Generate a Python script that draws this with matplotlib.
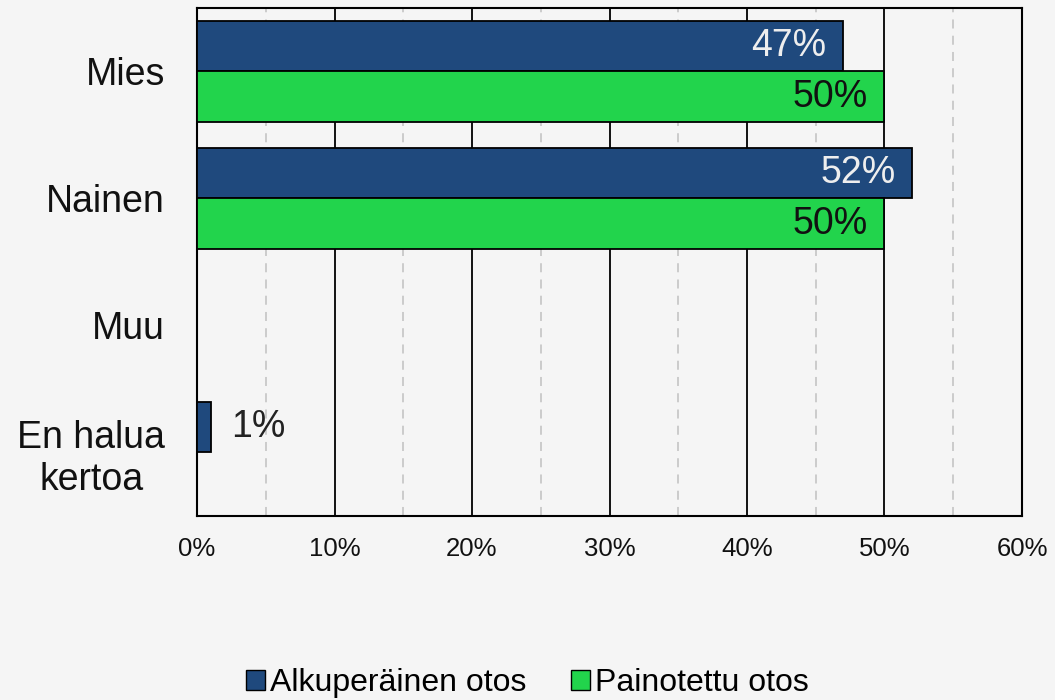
import numpy as np
import matplotlib
matplotlib.use("Agg")
from matplotlib import pyplot as plt
from matplotlib.patches import Patch

plt.rcParams['font.family'] = ['Liberation Sans', 'DejaVu Sans']

categories = ['Mies', 'Nainen', 'Muu', 'En halua\nkertoa']
alkuperainen = [0.47, 0.52, np.nan, 0.01]
painotettu = [0.50, 0.50, np.nan, np.nan]
series_names = ['Alkuperäinen otos', 'Painotettu otos']

BLUE = '#1f497d'
GREEN = '#22d44c'
BG = '#f5f5f5'

fig = plt.figure(figsize=(10.55, 7.0), dpi=100, facecolor=BG)
ax = fig.add_axes([197 / 1055, 1 - 516 / 700, (1022 - 197) / 1055, (516 - 8) / 700])
ax.set_facecolor(BG)

y = np.arange(len(categories))
h = 0.4
b1 = ax.barh(y - h / 2, np.nan_to_num(alkuperainen), height=h, color=BLUE,
             edgecolor='black', linewidth=1.3, zorder=3)
b2 = ax.barh(y + h / 2, np.nan_to_num(painotettu), height=h, color=GREEN,
             edgecolor='black', linewidth=1.3, zorder=3)

# value labels
for bars, vals, inside_col in [(b1, alkuperainen, '#eeeeee'), (b2, painotettu, '#111111')]:
    for bar, v in zip(bars, vals):
        if np.isnan(v):
            continue
        yc = bar.get_y() + bar.get_height() / 2
        txt = f'{v * 100:.0f}%'
        if v > 0.05:
            ax.annotate(txt, (v, yc), xytext=(-12, 0), textcoords='offset points',
                        ha='right', va='center', fontsize=27, color=inside_col, zorder=4)
        else:
            ax.annotate(txt, (v, yc), xytext=(15, 0), textcoords='offset points',
                        ha='left', va='center', fontsize=27, color='#222222', zorder=4)

ax.set_xlim(0, 0.6)
ax.set_ylim(len(categories) - 0.5, -0.5)
ax.set_xticks(np.arange(0, 0.61, 0.1))
ax.set_xticklabels([f'{int(round(t * 100))}%' for t in np.arange(0, 0.61, 0.1)], fontsize=18.5)
ax.set_xticks(np.arange(0.05, 0.6, 0.1), minor=True)
ax.set_yticks(y)
ax.set_yticklabels(categories, fontsize=27)
for lbl in ax.get_yticklabels():
    lbl.set_multialignment('center')

ax.tick_params(axis='x', which='both', length=0, pad=15, colors='#111111')
ax.tick_params(axis='y', length=0, pad=23, colors='#111111')

ax.grid(axis='x', which='major', color='black', linewidth=1.3, zorder=1)
ax.grid(axis='x', which='minor', color='#c8c8c8', linestyle=(0, (5, 4)), linewidth=1.3, zorder=1)
ax.set_axisbelow(True)
for s in ax.spines.values():
    s.set_color('black')
    s.set_linewidth(1.5)

handles = [Patch(facecolor=BLUE, edgecolor='black'), Patch(facecolor=GREEN, edgecolor='black')]
fig.legend(handles, series_names, loc='center', bbox_to_anchor=(527 / 1055, 1 - 683 / 700),
           ncol=2, frameon=False, fontsize=23, handlelength=0.6, handleheight=0.6,
           handletextpad=0.15, columnspacing=1.4)

fig.savefig('out.png', dpi=100, facecolor=BG)
